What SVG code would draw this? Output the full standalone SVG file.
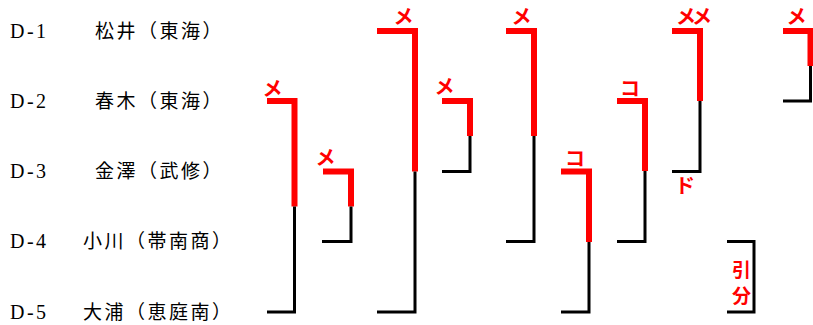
<svg xmlns="http://www.w3.org/2000/svg" width="813" height="325" viewBox="0 0 813 325">
<style>
.id{font-family:"Liberation Serif","Noto Sans CJK JP",serif;font-size:20px;fill:#000;letter-spacing:2.5px}
.nm{font-family:"Noto Sans CJK JP",sans-serif;font-size:19px;fill:#000;letter-spacing:2.5px}
.r{fill:none;stroke:#ff0000;stroke-width:6;stroke-linejoin:miter;stroke-linecap:butt}
.k{fill:none;stroke:#000;stroke-width:3;stroke-linejoin:miter;stroke-linecap:butt}
.lb{font-family:"Noto Sans CJK JP",sans-serif;font-size:20px;font-weight:bold;fill:#ff0000}
.lb2{font-family:"Noto Sans CJK JP",sans-serif;font-size:19px;font-weight:bold;fill:#ff0000}
</style>
<rect width="813" height="325" fill="#fff"/>
<g id="D-1"><text class="id" x="10" y="38">D-1</text><text class="nm" x="95" y="38">松井（東海）</text></g>
<g id="D-2"><text class="id" x="10" y="108">D-2</text><text class="nm" x="95" y="108">春木（東海）</text></g>
<g id="D-3"><text class="id" x="10" y="178">D-3</text><text class="nm" x="95" y="178">金澤（武修）</text></g>
<g id="D-4"><text class="id" x="10" y="248">D-4</text><text class="nm" x="83" y="248">小川（帯南商）</text></g>
<g id="D-5"><text class="id" x="10" y="319">D-5</text><text class="nm" x="83" y="319">大浦（恵庭南）</text></g>
<g id="connectors">
<g id="m1"><path class="r" d="M267,101 H294.5 V206.5"/><path class="k" d="M294.5,206.5 V312 H267"/><text class="lb" x="262.5" y="96">メ</text></g>
<g id="m2"><path class="r" d="M323,171.5 H351 V206.5"/><path class="k" d="M351,206.5 V241.5 H322"/><text class="lb" x="315.5" y="165">メ</text></g>
<g id="m3"><path class="r" d="M377,31 H415 V171.5"/><path class="k" d="M415,171.5 V312 H377"/><text class="lb" x="393.5" y="24">メ</text></g>
<g id="m4"><path class="r" d="M442,101 H470 V136"/><path class="k" d="M470,136 V171.5 H442"/><text class="lb" x="434.5" y="94">メ</text></g>
<g id="m5"><path class="r" d="M506,31 H534 V136"/><path class="k" d="M534,136 V241.5 H506"/><text class="lb" x="511.5" y="24">メ</text></g>
<g id="m6"><path class="r" d="M561,171.5 H589 V242"/><path class="k" d="M589,242 V312 H561"/><text class="lb" x="565" y="166">コ</text></g>
<g id="m7"><path class="r" d="M617,101 H645 V171"/><path class="k" d="M645,171 V241.5 H617"/><text class="lb" x="620" y="96">コ</text></g>
<g id="m8"><path class="r" d="M672,31 H700 V101"/><path class="k" d="M700,101 V171.5 H672"/><text class="lb" x="676" y="24" letter-spacing="-4">メメ</text><text class="lb" x="675" y="193" font-size="21">ド</text></g>
<g id="m9"><path class="r" d="M783,31 H810.5 V66"/><path class="k" d="M810.5,66 V101 H783"/><text class="lb" x="786.5" y="24">メ</text></g>
<g id="m10"><path class="k" d="M727,241.5 H754 V312 H727"/><text class="lb2" x="732" y="277">引</text><text class="lb2" x="732" y="303">分</text></g>
</g>
</svg>
